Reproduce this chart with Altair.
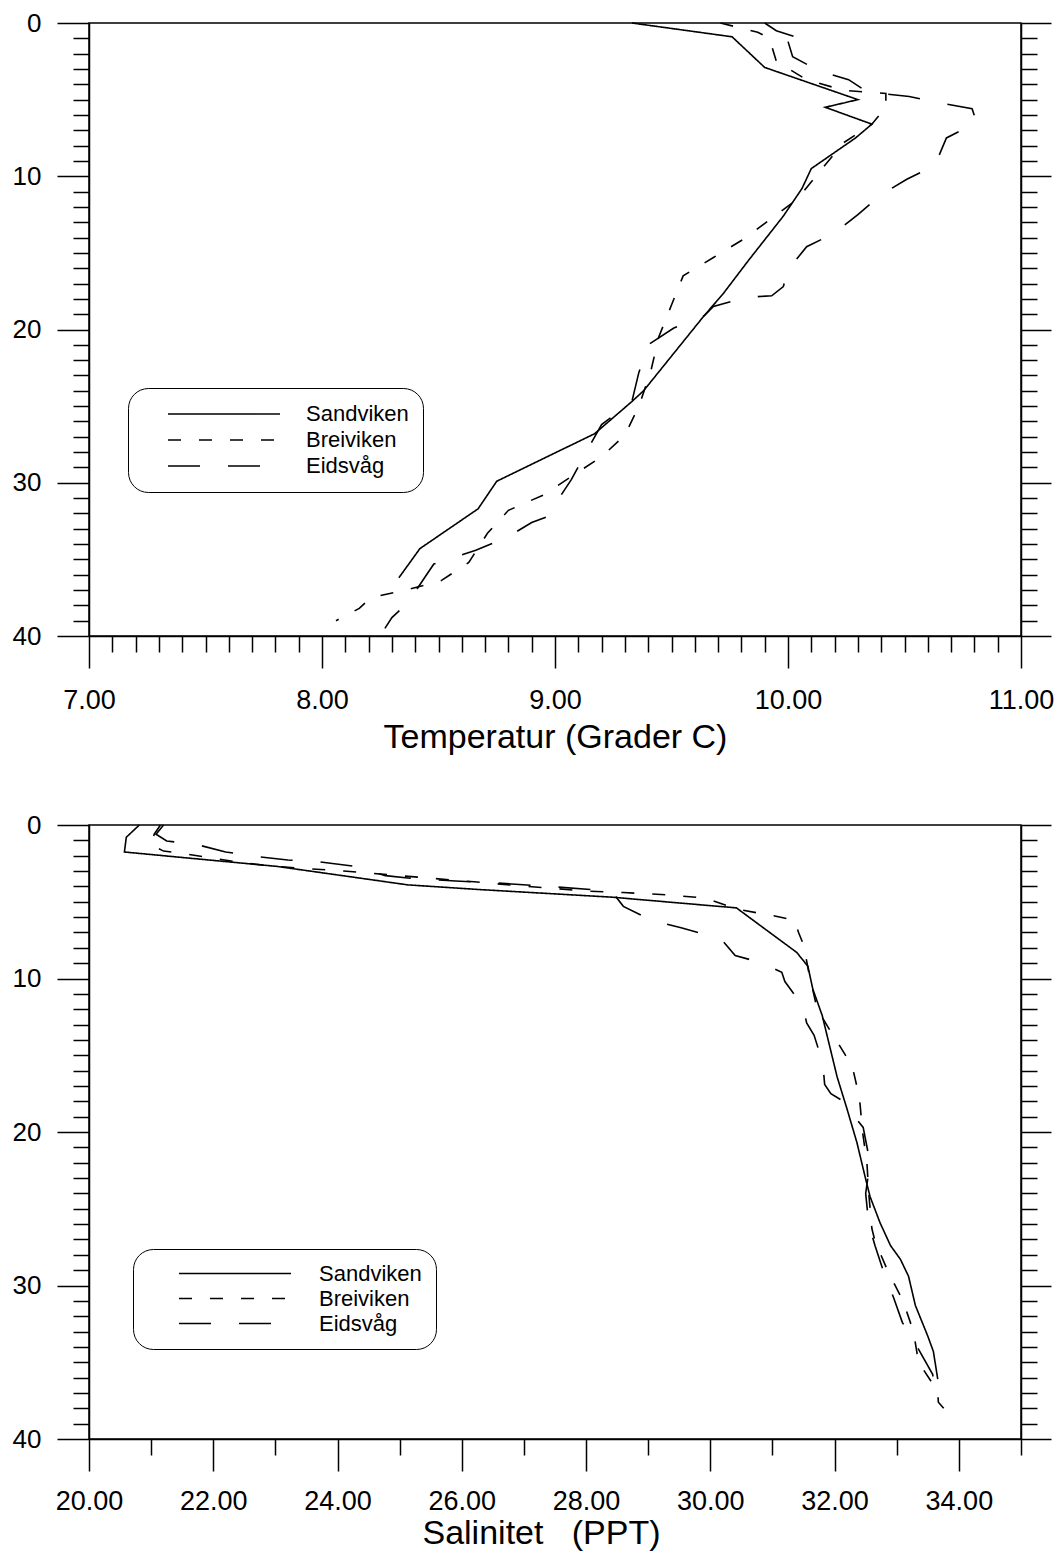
import altair as alt
import pandas as pd

FONT = "Liberation Sans"
STATIONS = ["Sandviken", "Breiviken", "Eidsvåg"]

# ---------------- Temperature profiles (depth m, temperature C) ----------------
t_sand_depth = [0.0, 0.9, 2.9, 5.0, 5.5, 6.6, 7.5, 9.5, 10.8, 12.6, 15.5, 17.7, 19.1, 24.0, 24.7,
                26.8, 29.9, 31.7, 34.3, 36.2]
t_sand_temp = [9.33, 9.76, 9.90, 10.30, 10.16, 10.36, 10.29, 10.10, 10.06, 9.98, 9.83, 9.72, 9.64,
               9.38, 9.33, 9.17, 8.75, 8.67, 8.42, 8.33]

t_brei_depth = [0.0, 0.6, 1.0, 2.5, 3.7, 4.4, 4.6, 5.5, 6.6, 7.8, 9.8, 11.5, 14.1, 15.3, 16.5, 18.4,
                20.5, 22.8, 25.0, 26.9, 28.3, 30.8, 31.8, 33.3, 35.2, 36.4, 37.0, 37.5, 38.2, 39.0]
t_brei_temp = [9.71, 9.87, 9.92, 9.95, 10.08, 10.24, 10.42, 10.42, 10.36, 10.24, 10.13, 10.04, 9.81,
               9.68, 9.55, 9.50, 9.445, 9.41, 9.36, 9.30, 9.20, 8.95, 8.80, 8.71, 8.63, 8.51, 8.36,
               8.21, 8.16, 8.06]

t_eids_depth = [0.0, 0.5, 1.1, 1.2, 2.2, 3.1, 3.7, 4.5, 4.8, 5.2, 5.6, 6.5, 7.5, 9.3, 10.2, 11.2,
                12.5, 13.7, 14.6, 16.1, 17.2, 17.8, 17.9, 18.5, 19.1, 19.9, 21.0, 22.8, 24.7, 26.2,
                28.1, 29.8, 31.4, 32.2, 32.6, 33.6, 34.4, 35.0, 35.3, 36.2, 37.8, 38.8, 39.5]
t_eids_temp = [9.90, 9.95, 10.07, 10.00, 10.02, 10.13, 10.26, 10.34, 10.52, 10.65, 10.79, 10.81,
               10.68, 10.63, 10.51, 10.40, 10.30, 10.20, 10.08, 10.00, 9.98, 9.93, 9.82, 9.68, 9.64,
               9.51, 9.40, 9.36, 9.33, 9.20, 9.13, 9.07, 9.00, 8.97, 8.90, 8.79, 8.66, 8.54, 8.48,
               8.44, 8.37, 8.30, 8.27]

# ---------------- Salinity profiles (depth m, salinity PPT) ----------------
s_sand_depth = [0.0, 0.8, 1.76, 2.7, 3.9, 4.2, 4.7, 5.4, 8.3, 9.2, 10.7, 12.4, 13.9, 16.4, 18.5,
                20.7, 22.9, 24.2, 25.9, 27.4, 28.3, 29.4, 31.3, 33.3, 34.3, 36.1]
s_sand_sal = [20.81, 20.60, 20.57, 23.03, 25.13, 26.26, 28.41, 30.42, 31.39, 31.57, 31.65, 31.80,
              31.89, 32.04, 32.20, 32.36, 32.49, 32.57, 32.73, 32.90, 33.06, 33.19, 33.30, 33.50,
              33.59, 33.66]

s_brei_depth = [0.0, 0.6, 1.3, 1.7, 1.85, 2.45, 2.7, 3.0, 3.4, 3.7, 3.95, 4.3, 4.4, 4.55, 4.75,
                5.5, 5.9, 6.2, 7.0, 7.8, 9.5, 12.0, 13.4, 14.1, 15.3, 16.0, 17.4, 18.2, 20.0, 22.0,
                24.0, 26.3, 27.1, 29.0, 31.0, 33.0, 35.0, 36.9, 37.6, 38.2, 38.7]
s_brei_sal = [21.15, 21.05, 21.0, 21.2, 21.5, 22.45, 23.0, 24.1, 25.3, 26.2, 26.9, 28.0, 28.6,
              29.3, 29.9, 30.45, 31.0, 31.35, 31.42, 31.5, 31.58, 31.72, 31.93, 32.04, 32.22,
              32.30, 32.38, 32.41, 32.45, 32.52, 32.55, 32.60, 32.65, 32.85, 33.10, 33.27, 33.35,
              33.66, 33.67, 33.80, 33.95]

s_eids_depth = [0.0, 0.6, 1.04, 1.3, 1.76, 2.08, 2.28, 2.4, 2.67, 3.3, 3.45, 3.65, 3.75, 4.0, 4.3,
                5.3, 6.2, 6.7, 7.2, 7.5, 8.5, 9.0, 9.6, 10.2, 11.8, 12.9, 13.7, 15.5, 16.9, 17.5,
                17.9, 19.7, 22.0, 24.0, 26.0, 27.4, 29.0, 30.8, 32.4, 34.0, 35.8, 36.6, 37.2]
s_eids_sal = [21.2, 21.08, 21.25, 21.76, 22.2, 22.75, 23.2, 23.7, 24.24, 24.77, 25.13, 25.9, 26.45,
              27.4, 28.41, 28.6, 29.05, 29.53, 29.98, 30.19, 30.4, 30.84, 31.15, 31.2, 31.49,
              31.55, 31.67, 31.81, 31.84, 31.94, 32.1, 32.46, 32.57, 32.50, 32.55, 32.65, 32.78,
              32.95, 33.09, 33.33, 33.58, 33.59, 33.78]

# axis tick values
temp_ticks = [round(7 + i * 0.1, 1) for i in range(41)]
sal_ticks = list(range(20, 36))
depth_ticks = list(range(0, 41))


def frame(series):
    rows = []
    for st, depths, vals in series:
        for i, (d, v) in enumerate(zip(depths, vals)):
            rows.append({"station": st, "depth": d, "value": v, "idx": i})
    return pd.DataFrame(rows)


temp_df = frame([("Sandviken", t_sand_depth, t_sand_temp),
                 ("Breiviken", t_brei_depth, t_brei_temp),
                 ("Eidsvåg", t_eids_depth, t_eids_temp)])
sal_df = frame([("Sandviken", s_sand_depth, s_sand_sal),
                ("Breiviken", s_brei_depth, s_brei_sal),
                ("Eidsvåg", s_eids_depth, s_eids_sal)])

NBSP = "\u00a0"


def panel(df, xdom, xvals, major_test, fmt, xtitle, leg, xlabpad, titlepad, height,
          title_x=None):
    xscale = alt.Scale(domain=xdom, nice=False, zero=False)
    yscale = alt.Scale(domain=[0, 40], reverse=True, nice=False, zero=False)
    xaxis_kw = dict(
        values=xvals,
        labelExpr=f"({major_test}) ? format(datum.value, '{fmt}') : ''",
        tickSize={"condition": {"test": major_test, "value": 32}, "value": 16},
        tickColor="black", tickWidth=1.5, domainColor="black", domainWidth=1.5,
        labelFont=FONT, labelFontSize=27, labelColor="black", labelPadding=xlabpad,
        labelFlush=False, labelOverlap=False, grid=False,
        title=xtitle, titleFont=FONT, titleFontSize=34, titleFontWeight="normal",
        titleColor="black", titlePadding=titlepad,
    )
    if title_x is not None:
        xaxis_kw["titleX"] = title_x
    xaxis = alt.Axis(**xaxis_kw)
    yaxis_left = alt.Axis(
        values=depth_ticks,
        labelExpr="datum.value % 10 === 0 ? datum.value : ''",
        tickSize={"condition": {"test": "datum.value % 10 === 0", "value": 32}, "value": 16},
        tickColor="black", tickWidth=1.5, domainColor="black", domainWidth=1.5,
        labelFont=FONT, labelFontSize=26, labelColor="black", labelPadding=16,
        labelOverlap=False, grid=False, title=None,
    )
    yaxis_right = alt.Axis(
        orient="right", values=depth_ticks, labels=False,
        tickSize={"condition": {"test": "datum.value % 10 === 0", "value": 30}, "value": 16},
        tickColor="black", tickWidth=1.5, domainColor="black", domainWidth=1.5,
        grid=False, title=None,
    )
    legend = alt.Legend(
        orient="none", legendX=leg["x"], legendY=leg["y"], direction="vertical",
        title=None,
        strokeColor="black", cornerRadius=20, padding=leg["pad"], fillColor="white",
        labelFont=FONT, labelFontSize=22, labelColor="black", labelOffset=leg["loff"],
        symbolType="stroke", symbolSize=12544, symbolStrokeColor="black",
        symbolStrokeWidth=1.6, symbolOffset=leg["soff"], clipHeight=leg["ch"], rowPadding=2,
    )
    lines = alt.Chart(df).mark_line(stroke="black", strokeWidth=1.6).encode(
        x=alt.X("value:Q", scale=xscale, axis=xaxis),
        y=alt.Y("depth:Q", scale=yscale, axis=yaxis_left),
        strokeDash=alt.StrokeDash(
            "station:N",
            scale=alt.Scale(domain=STATIONS, range=[[1, 0], [13, 18], [32, 28]]),
            sort=STATIONS, legend=legend),
        order=alt.Order("idx:Q"),
    )
    right = alt.Chart(df).mark_line(strokeOpacity=0).encode(
        x=alt.X("value:Q", scale=xscale, axis=xaxis),
        y=alt.Y("depth:Q", scale=yscale, axis=yaxis_right),
        detail="station:N",
        order=alt.Order("idx:Q"),
    )
    return alt.layer(lines, right).resolve_axis(y="independent").properties(width=932, height=height)


top = panel(temp_df, [7, 11], temp_ticks,
            "abs(datum.value - round(datum.value)) < 0.001", ".2f",
            "Temperatur (Grader C)",
            {"x": 39, "y": 365, "pad": 14, "loff": 25, "soff": 25, "ch": 24}, 19, 7, 613)
bottom = panel(sal_df, [20, 35], sal_ticks,
               "datum.value % 2 === 0", ".2f",
               "Salinitet" + NBSP + NBSP + " (PPT)",
               {"x": 44, "y": 424, "pad": 14, "loff": 27, "soff": 31, "ch": 21}, 17, 2, 614,
               title_x=452)

chart = alt.concat(top, bottom, columns=1, spacing=56).resolve_scale(
    strokeDash="independent").resolve_legend(strokeDash="independent").properties(
    padding={"left": 3, "top": 1, "right": 0, "bottom": 0}
).configure(background="white", view=alt.ViewConfig(stroke="black", strokeWidth=1.5))

chart.save("out.html", embed_options={"renderer": "svg", "actions": False})
